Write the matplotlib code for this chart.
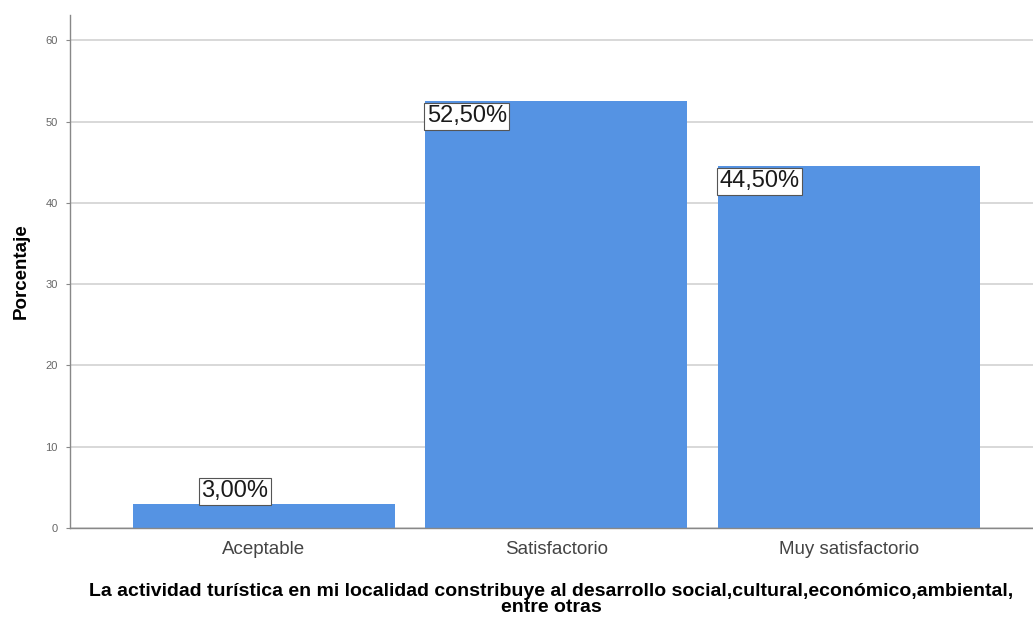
import matplotlib
matplotlib.use("Agg")
import matplotlib.pyplot as plt

categorias = ["Aceptable", "Satisfactorio", "Muy satisfactorio"]
porcentajes = [3.0, 52.5, 44.5]
etiquetas = ["3,00%", "52,50%", "44,50%"]
yticks = [0, 10, 20, 30, 40, 50, 60]

plt.rcParams['font.family'] = ['Liberation Sans', 'DejaVu Sans']

fig = plt.figure(figsize=(10.33, 6.17), dpi=100)
ax = fig.add_axes([0.0678, 0.1442, 0.9322, 0.8315])

x = list(range(len(categorias)))
ancho = 0.896
ax.bar(x, porcentajes, width=ancho, color="#5593e3", zorder=2)

# etiquetas de valor con recuadro
for i, v in enumerate(porcentajes):
    if v < 10:
        ax.text(i - 0.1, v + 0.15, etiquetas[i], ha="center", va="bottom", fontsize=17,
                color="#1a1a1a", zorder=3,
                bbox=dict(boxstyle="square,pad=0.1", fc="white", ec="#555555", lw=0.8))
    else:
        ax.text(i - ancho / 2 + 0.005, v - 0.5, etiquetas[i], ha="left", va="top", fontsize=17,
                color="#1a1a1a", zorder=3,
                bbox=dict(boxstyle="square,pad=0.1", fc="white", ec="#555555", lw=0.8))

ax.set_xlim(-0.663, 2.63)
ax.set_ylim(0, 63.1)
ax.set_yticks(yticks)
ax.set_yticklabels([str(t) for t in yticks], fontsize=8, color="#666666")
ax.set_xticks(x)
ax.set_xticklabels(categorias, fontsize=13.5, color="#444444")
ax.tick_params(axis="y", length=3, color="#888888", pad=6)
ax.tick_params(axis="x", length=0, pad=9)

ax.yaxis.grid(True, color="#d6d6d6", lw=1.3, zorder=0)
ax.set_axisbelow(True)
for s in ["top", "right"]:
    ax.spines[s].set_visible(False)
ax.spines["left"].set_color("#888888")
ax.spines["bottom"].set_color("#888888")
ax.spines["left"].set_linewidth(1.0)
ax.spines["bottom"].set_linewidth(1.0)

ax.set_ylabel("Porcentaje", fontsize=13.5, fontweight="bold", labelpad=11)
ax.set_xlabel("La actividad turística en mi localidad constribuye al desarrollo social,cultural,económico,ambiental,\nentre otras",
              fontsize=14, fontweight="bold", labelpad=18, linespacing=0.95)

fig.savefig("out.png", dpi=100)
